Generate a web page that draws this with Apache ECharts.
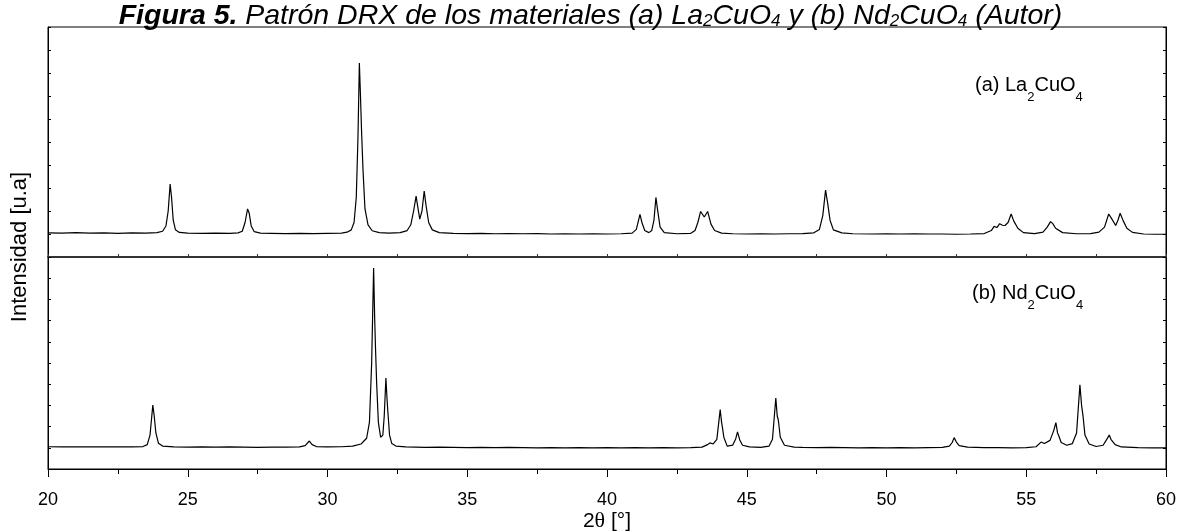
<!DOCTYPE html>
<html>
<head>
<meta charset="utf-8">
<script src="https://cdn.jsdelivr.net/npm/echarts/dist/echarts.min.js"></script>
<style>html,body{margin:0;padding:0;background:#fff;}#c{width:1181px;height:531px;}</style>
</head>
<body>
<div id="c"></div>
<script>
// 2θ range and tick labels
const xTicks = [20, 25, 30, 35, 40, 45, 50, 55, 60];
// (a) La2CuO4 pattern: [2θ, intensity (a.u.)]
const laData = [[20.0,105],[20.5,104],[21.0,106],[21.5,104],[22.0,105],[22.5,103],[23.0,105],[23.5,104],[23.9,106],[24.1,112],[24.22,135],[24.3,200],[24.37,317],[24.42,260],[24.48,160],[24.56,118],[24.7,107],[25.0,104],[25.5,103],[26.0,104],[26.5,103],[26.8,105],[26.95,112],[27.05,150],[27.14,209],[27.2,190],[27.27,135],[27.38,110],[27.6,104],[28.0,103],[28.5,102],[29.0,103],[29.5,102],[30.0,103],[30.5,104],[30.7,108],[30.85,118],[30.95,150],[31.03,260],[31.09,520],[31.14,843],[31.18,700],[31.22,543],[31.27,380],[31.34,210],[31.45,140],[31.6,114],[31.85,106],[32.2,104],[32.6,106],[32.85,115],[32.98,140],[33.08,200],[33.17,265],[33.24,210],[33.3,165],[33.38,200],[33.46,287],[33.53,220],[33.62,150],[33.75,118],[34.0,106],[34.5,103],[35.0,102],[35.5,103],[36.0,101],[36.5,102],[37.0,101],[37.5,102],[38.0,100],[38.5,101],[39.0,100],[39.5,101],[40.0,100],[40.5,101],[40.9,104],[41.05,120],[41.18,185],[41.25,150],[41.35,115],[41.5,106],[41.6,115],[41.68,160],[41.75,259],[41.82,196],[41.9,130],[42.05,106],[42.5,101],[43.0,103],[43.15,115],[43.25,150],[43.35,198],[43.48,174],[43.6,198],[43.72,143],[43.85,115],[44.1,104],[44.5,101],[45.0,100],[45.5,101],[46.0,100],[46.5,101],[47.0,102],[47.4,105],[47.6,120],[47.72,180],[47.82,291],[47.9,230],[47.98,160],[48.1,118],[48.4,105],[48.8,101],[49.5,100],[50.0,101],[50.5,100],[51.0,101],[51.5,100],[52.0,100],[52.5,99],[53.0,100],[53.5,102],[53.75,115],[53.85,133],[53.95,128],[54.05,145],[54.15,138],[54.24,137],[54.35,150],[54.46,187],[54.55,157],[54.7,125],[54.9,106],[55.3,102],[55.6,108],[55.75,130],[55.87,154],[55.95,145],[56.05,125],[56.3,106],[56.8,101],[57.3,102],[57.6,108],[57.8,130],[57.95,187],[58.05,168],[58.1,160],[58.2,137],[58.28,160],[58.36,190],[58.47,157],[58.6,125],[58.8,107],[59.2,100],[59.6,99],[60.0,99]];
// (b) Nd2CuO4 pattern: [2θ, intensity (a.u.)]
const ndData = [[20.0,105],[20.5,104],[21.0,105],[21.5,104],[22.0,105],[22.5,104],[23.0,104],[23.4,106],[23.55,115],[23.65,160],[23.75,302],[23.8,250],[23.86,170],[23.95,122],[24.1,108],[24.5,104],[25.0,103],[25.5,104],[26.0,103],[26.5,104],[27.0,103],[27.5,102],[28.0,103],[28.5,103],[29.0,104],[29.2,110],[29.35,132],[29.45,115],[29.6,106],[30.0,104],[30.5,105],[30.9,108],[31.2,118],[31.4,145],[31.5,220],[31.58,500],[31.65,948],[31.69,700],[31.72,560],[31.76,400],[31.82,220],[31.9,150],[31.98,160],[32.03,250],[32.09,429],[32.13,330],[32.16,269],[32.22,160],[32.3,120],[32.45,108],[32.8,104],[33.5,102],[34.0,103],[34.5,102],[35.0,101],[35.5,102],[36.0,101],[36.5,102],[37.0,101],[37.5,100],[38.0,101],[38.5,100],[39.0,101],[39.5,100],[40.0,101],[40.5,100],[41.0,101],[41.5,100],[42.0,101],[42.5,100],[43.0,101],[43.4,103],[43.6,115],[43.68,123],[43.8,118],[43.93,140],[44.05,280],[44.1,220],[44.12,205],[44.18,150],[44.3,108],[44.5,113],[44.6,140],[44.67,175],[44.75,137],[44.85,112],[45.1,104],[45.5,102],[45.8,108],[45.92,140],[46.04,335],[46.09,250],[46.13,231],[46.2,150],[46.35,112],[46.7,103],[47.0,102],[47.5,101],[48.0,102],[48.5,101],[49.0,100],[49.5,101],[50.0,100],[50.5,101],[51.0,100],[51.5,101],[52.0,102],[52.25,108],[52.35,125],[52.42,148],[52.5,127],[52.6,110],[52.9,103],[53.5,101],[54.0,101],[54.5,100],[55.0,101],[55.35,105],[55.53,127],[55.65,120],[55.85,135],[55.98,180],[56.06,219],[56.12,170],[56.16,158],[56.25,125],[56.45,112],[56.65,120],[56.8,170],[56.92,397],[56.98,300],[57.03,252],[57.1,160],[57.25,118],[57.5,106],[57.75,112],[57.88,140],[57.97,160],[58.03,140],[58.08,137],[58.18,115],[58.4,104],[59.0,101],[59.5,100],[60.0,100]];

const FONT = 'Liberation Sans, Arial, sans-serif';
const chart = echarts.init(document.getElementById('c'), null, {renderer: 'canvas'});

function yAx(grid, pos) {
  return {
    type: 'value', gridIndex: grid, position: pos, min: 0, max: 1000, interval: 100,
    axisLine: {show: true, lineStyle: {color: '#000', width: 1}},
    axisTick: {show: true, inside: true, length: 3, lineStyle: {color: '#000'}},
    axisLabel: {show: false}, splitLine: {show: false}
  };
}

const panelRich = {
  n: {fontFamily: FONT, fontSize: 20, fill: '#000', lineHeight: 22},
  s: {fontFamily: FONT, fontSize: 13, fill: '#000', lineHeight: 14, padding: [17, 0, 0, 0], verticalAlign: 'top'}
};

chart.setOption({
  animation: false,
  backgroundColor: '#fff',
  title: {
    left: 'center', top: -4,
    text: '{b|Figura 5.} {n|Patrón DRX de los materiales (a) La}{s|2}{n|CuO}{s|4}{n| y (b) Nd}{s|2}{n|CuO}{s|4}{n| (Autor)}',
    textStyle: {
      fontFamily: FONT, fontSize: 28, fontWeight: 'normal', fontStyle: 'italic', color: '#000',
      rich: {
        b: {fontFamily: FONT, fontSize: 28.5, fontWeight: 'bold', fontStyle: 'italic', color: '#000', lineHeight: 30},
        n: {fontFamily: FONT, fontSize: 28.5, fontWeight: 'normal', fontStyle: 'italic', color: '#000', lineHeight: 30},
        s: {fontFamily: FONT, fontSize: 17, fontWeight: 'normal', fontStyle: 'italic', color: '#000', lineHeight: 17, padding: [12, 0, 0, 0], verticalAlign: 'top'}
      }
    }
  },
  grid: [
    {left: 48, right: 15, top: 27, height: 230, show: true, borderColor: '#000', borderWidth: 1, outerBoundsMode: 'none', containLabel: false},
    {left: 48, right: 15, top: 257, height: 212, show: true, borderColor: '#000', borderWidth: 1, outerBoundsMode: 'none', containLabel: false}
  ],
  xAxis: [
    {
      type: 'value', gridIndex: 0, min: 20, max: 60, interval: 2.5,
      axisLine: {show: true, lineStyle: {color: '#333', width: 2}},
      axisTick: {show: true, inside: true, length: 3, lineStyle: {color: '#333'}},
      axisLabel: {show: false}, splitLine: {show: false}
    },
    {
      type: 'value', gridIndex: 1, min: 20, max: 60, interval: 5,
      axisLine: {show: true, lineStyle: {color: '#000', width: 1}},
      axisTick: {show: true, inside: false, length: 8, lineStyle: {color: '#000'}},
      minorTick: {show: true, splitNumber: 2, length: 5, lineStyle: {color: '#000'}},
      axisLabel: {show: true, fontFamily: FONT, fontSize: 18, color: '#000', margin: 22,
        formatter: function (v) { return xTicks.indexOf(v) >= 0 ? String(v) : ''; }},
      splitLine: {show: false},
      name: '{n|2}{t|θ}{n| [°]}', nameLocation: 'middle', nameGap: 40,
      nameTextStyle: {
        rich: {
          n: {fontFamily: FONT, fontSize: 21, color: '#000', lineHeight: 22},
          t: {fontFamily: 'Liberation Serif, Times New Roman, serif', fontSize: 22, color: '#000', lineHeight: 22}
        }
      }
    }
  ],
  yAxis: [yAx(0, 'left'), yAx(0, 'right'), yAx(1, 'left'), yAx(1, 'right')],
  graphic: [
    {
      type: 'text', x: 20, y: 247, rotation: Math.PI / 2,
      style: {text: 'Intensidad [u.a]', fontFamily: FONT, fontSize: 22, fill: '#000', align: 'center', verticalAlign: 'middle'}
    },
    {
      type: 'text', x: 975, y: 74,
      style: {text: '{n|(a) La}{s|2}{n|CuO}{s|4}', fill: '#000', rich: panelRich}
    },
    {
      type: 'text', x: 972, y: 282,
      style: {text: '{n|(b) Nd}{s|2}{n|CuO}{s|4}', fill: '#000', rich: panelRich}
    }
  ],
  series: [
    {type: 'line', xAxisIndex: 0, yAxisIndex: 0, data: laData, showSymbol: false, lineStyle: {color: '#000', width: 1.2}, silent: true},
    {type: 'line', xAxisIndex: 1, yAxisIndex: 2, data: ndData, showSymbol: false, lineStyle: {color: '#000', width: 1.2}, silent: true}
  ]
});
</script>
</body>
</html>
